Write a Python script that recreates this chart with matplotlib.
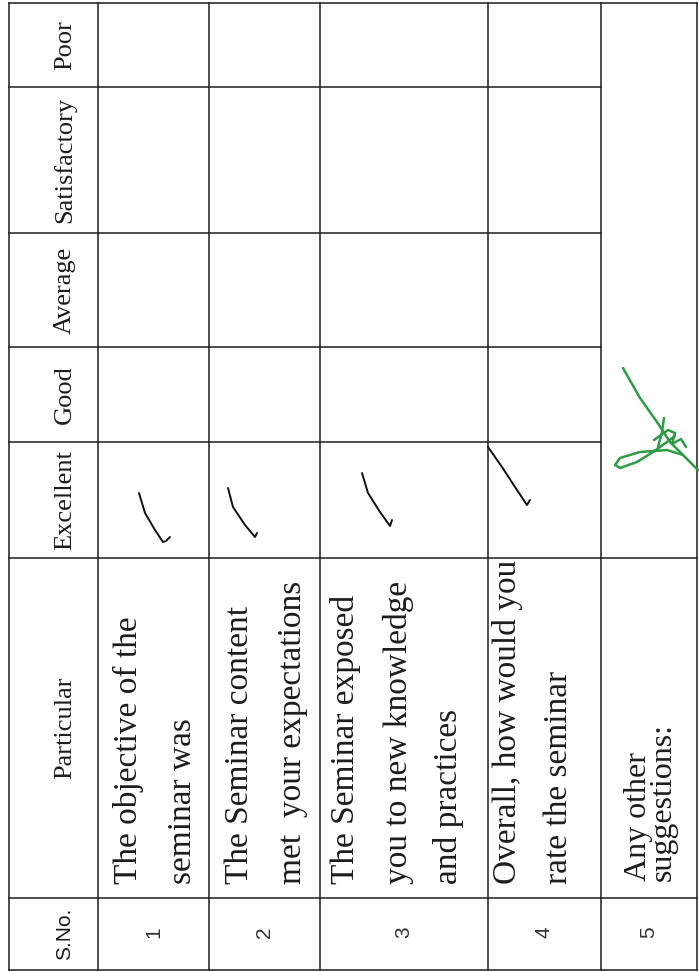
import numpy as np
import matplotlib.pyplot as plt

# form content, in the orientation of the printed form (rows of the table)
sno = ["S.No.", "1", "2", "3", "4", "5"]
columns = ["Particular", "Excellent", "Good", "Average", "Satisfactory", "Poor"]
particulars = [
    ["The objective of the", "seminar was"],
    ["The Seminar content", "met  your expectations"],
    ["The Seminar exposed", "you to new knowledge", "and practices"],
    ["Overall, how would you", "rate the seminar"],
    ["Any other", "suggestions:"],
]
ratings = ["Excellent", "Excellent", "Excellent", "Excellent", None]

# hand-drawn ticks (pixel coords)
tick_1 = [(139, 493), (145, 513), (155, 530), (163, 542), (166, 541), (170, 537)]
tick_2 = [(228, 488), (233, 507), (245, 525), (255, 537), (257, 533)]
tick_3 = [(362, 473), (368, 493), (380, 512), (390, 526), (392, 520)]
tick_4 = [(488, 447), (502, 467), (515, 487), (527, 505), (530, 500)]
ticks = [tick_1, tick_2, tick_3, tick_4]

# green signature strokes
sig_main = [(623, 368), (640, 398), (657, 422), (670, 442), (683, 455), (698, 470)]
sig_loop = [(683, 455), (667, 450), (640, 452), (620, 458), (615, 465), (620, 468),
            (637, 462), (653, 452), (667, 442), (675, 436)]
sig_h1 = [(664, 418), (662, 432), (658, 447)]
sig_h2 = [(654, 440), (668, 430), (675, 433), (672, 444), (681, 439), (686, 447)]


W, H = 699, 972
x_edges = [9, 98, 209, 320, 488, 601, 697]          # one band per form row
y_edges = [970, 898, 558, 442, 347, 233, 87, 3]     # one band per form column
body_base = [[137, 191], [248, 301], [354, 407, 457], [516, 567], [651]]
ink = "#1c1c1c"

fig = plt.figure(figsize=(W / 100, H / 100), dpi=100)
ax = fig.add_axes([0, 0, 1, 1])
ax.set_xlim(0, W)
ax.set_ylim(H, 0)
ax.axis("off")

# grid
for x in x_edges:
    ax.plot([x, x], [y_edges[-1], y_edges[0]], color=ink, lw=1.1)
for k, y in enumerate(y_edges):
    if k in (0, 1, 2, len(y_edges) - 1):
        ax.plot([x_edges[0], x_edges[-1]], [y, y], color=ink, lw=1.1)
    else:
        # last form row has one merged cell over the rating columns
        ax.plot([x_edges[0], x_edges[-2]], [y, y], color=ink, lw=1.1)

# header band
yc = [(y_edges[i] + y_edges[i + 1]) / 2 for i in range(len(y_edges) - 1)]
ax.text(70, yc[0], sno[0], rotation=90, rotation_mode="anchor", ha="center",
        va="baseline", family="Liberation Sans", fontsize=15, color=ink)
for j, name in enumerate(columns):
    ax.text(71, yc[j + 1], name, rotation=90, rotation_mode="anchor", ha="center",
            va="baseline", family="Liberation Serif", fontsize=19, color=ink)

# form rows
for i in range(5):
    xc = (x_edges[i + 1] + x_edges[i + 2]) / 2
    ax.text(xc, yc[0] - 2, sno[i + 1], rotation=90, rotation_mode="anchor",
            ha="center", va="center", family="Liberation Sans", fontsize=15,
            color="#333333")
    if i < 4:
        for line, xb in zip(particulars[i], body_base[i]):
            ax.text(xb, 884, line, rotation=90, rotation_mode="anchor", ha="left",
                    va="baseline", family="Liberation Serif", fontsize=24,
                    color=ink)
    else:
        # the last answer is set with tight leading
        ax.text(body_base[i][0], 881, "\n".join(particulars[i]), rotation=90,
                rotation_mode="anchor", ha="left", va="center",
                multialignment="left", linespacing=0.78,
                family="Liberation Serif", fontsize=23, color=ink)

for i, r in enumerate(ratings):
    if r is None:
        continue
    pts = np.array(ticks[i])
    ax.plot(pts[:, 0], pts[:, 1], color="#111111", lw=1.4,
            solid_capstyle="round", solid_joinstyle="round")

for stroke in (sig_main, sig_loop, sig_h1, sig_h2):
    pts = np.array(stroke)
    ax.plot(pts[:, 0], pts[:, 1], color="#2e9b45", lw=1.8,
            solid_capstyle="round", solid_joinstyle="round")

fig.savefig("out.png", dpi=100, facecolor="white")
